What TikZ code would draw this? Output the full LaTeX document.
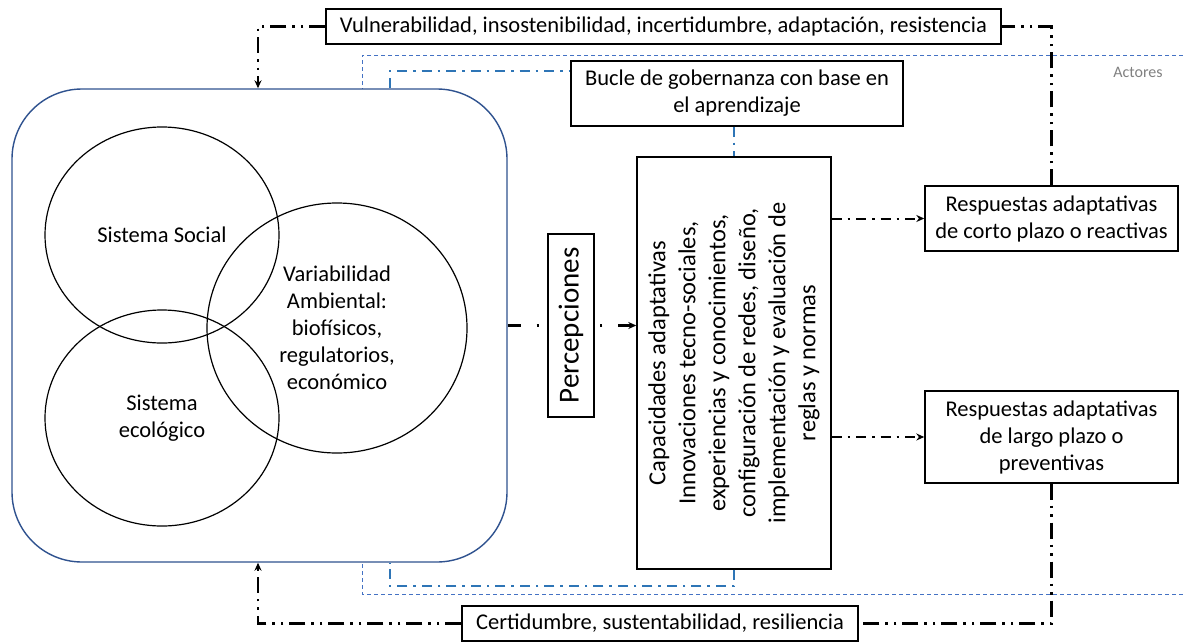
\documentclass[tikz,border=0pt]{standalone}
\usepackage{fontspec}
\setmainfont{Carlito}
\usetikzlibrary{arrows.meta,shapes.geometric}
\definecolor{rrblue}{RGB}{47,82,143}
\definecolor{loopblue}{RGB}{46,117,182}
\definecolor{actblue}{RGB}{68,114,196}
\tikzset{
  base/.style={font=\fontsize{22.5}{27}\selectfont},
  tbox/.style={base, draw=black, line width=1.4pt, fill=white, align=center, inner sep=0pt},
  circ/.style={base, draw=black, line width=1.2pt, ellipse, inner sep=0pt, align=center},
  outer/.style={line width=2.5pt, dash pattern=on 16pt off 6pt on 2.5pt off 6pt on 2.5pt off 6pt},
  conn/.style={line width=2pt, dash pattern=on 10pt off 6pt on 2.5pt off 6pt},
  pconn/.style={line width=2.2pt, dash pattern=on 13pt off 16pt on 2.5pt off 16pt},
  blueloop/.style={draw=loopblue, line width=2.6pt, dash pattern=on 10pt off 6pt on 2.5pt off 6pt},
  actores/.style={draw=actblue, line width=1pt, dash pattern=on 4pt off 3pt},
  tip/.style={-{Stealth[length=8pt,width=7pt]}},
  rtip/.style={{Stealth[length=8pt,width=7pt]}-}
}
\begin{document}
\begin{tikzpicture}[x=1pt,y=-1pt]
\useasboundingbox (0,0) rectangle (1183,643);
% Actores region
\draw[actores] (1183,55) -- (362,55) -- (362,594) -- (1183,594);
\node[text=gray, font=\fontsize{16}{19}\selectfont] (act) at (1138,72) {Actores};
% rounded system box
\node[draw=rrblue, line width=1.4pt, fill=white, rounded corners=70pt, minimum width=495pt, minimum height=473pt] (rr) at (259.5,325.5) {};
\node[circ, minimum width=234pt, minimum height=216pt] (soc) at (162,235) {Sistema Social};
\node[circ, minimum width=234pt, minimum height=216pt] (eco) at (162,418) {Sistema\\ecológico};
\node[circ, minimum width=260pt, minimum height=250pt] (var) at (337,328) {Variabilidad\\Ambiental:\\biofísicos,\\regulatorios,\\económico};
% boxes
\node[tbox, font=\fontsize{29}{34}\selectfont, rotate=90, minimum width=183pt, minimum height=46pt] (perc) at (571,325.5) {Percepciones};
\node[tbox, font=\fontsize{24.5}{30}\selectfont, rotate=90, minimum width=412pt, minimum height=194pt] (cap) at (734,363) {Capacidades adaptativas\\Innovaciones tecno-sociales,\\experiencias y conocimientos,\\configuración de redes, diseño,\\implementación y evaluación de\\reglas y normas};
\node[tbox, minimum width=332pt, minimum height=65pt] (bucle) at (737,93.5) {Bucle de gobernanza con base en\\el aprendizaje};
\node[tbox, minimum width=675pt, minimum height=35pt] (vul) at (663.5,26.5) {Vulnerabilidad, insostenibilidad, incertidumbre, adaptación, resistencia};
\node[tbox, minimum width=396pt, minimum height=35pt] (cert) at (660,623.5) {Certidumbre, sustentabilidad, resiliencia};
\node[tbox, minimum width=253pt, minimum height=65pt] (rc) at (1051.5,218.5) {Respuestas adaptativas\\de corto plazo o reactivas};
\node[tbox, minimum width=253pt, minimum height=92pt] (rl) at (1051.5,437) {Respuestas adaptativas\\de largo plazo o\\preventivas};
% coordinates
\coordinate (tl) at (258,26.5);
\coordinate (bl) at (258,623.5);
\coordinate (b1) at (390,71);
\coordinate (b2) at (390,586);
% outer loops
\draw[outer] (rc.north) -- (rc.north |- vul.east) -- (vul.east);
\draw[outer, tip] (vul.west) -- (tl) -- (tl |- rr.north);
\draw[outer] (rl.south) -- (rl.south |- cert.east) -- (cert.east);
\draw[outer, tip] (cert.west) -- (bl) -- (bl |- rr.south);
% perception connectors
\draw[pconn] (rr.east |- perc.center) -- (perc.north);
\draw[pconn, rtip] (perc.south -| cap.north) -- (perc.south);
% responses
\draw[conn, tip] (cap.south |- rc.west) -- (rc.west);
\draw[conn, tip] (cap.south |- rl.west) -- (rl.west);
% blue governance loop
\draw[blueloop] (rr.north -| b1) -- (b1) -- (b1 -| bucle.west);
\draw[blueloop] (cap.east |- bucle.south) -- (cap.east);
\draw[blueloop] (cap.west) -- (cap.west |- b2) -- (b2) -- (b2 |- rr.south);
\end{tikzpicture}
\end{document}
